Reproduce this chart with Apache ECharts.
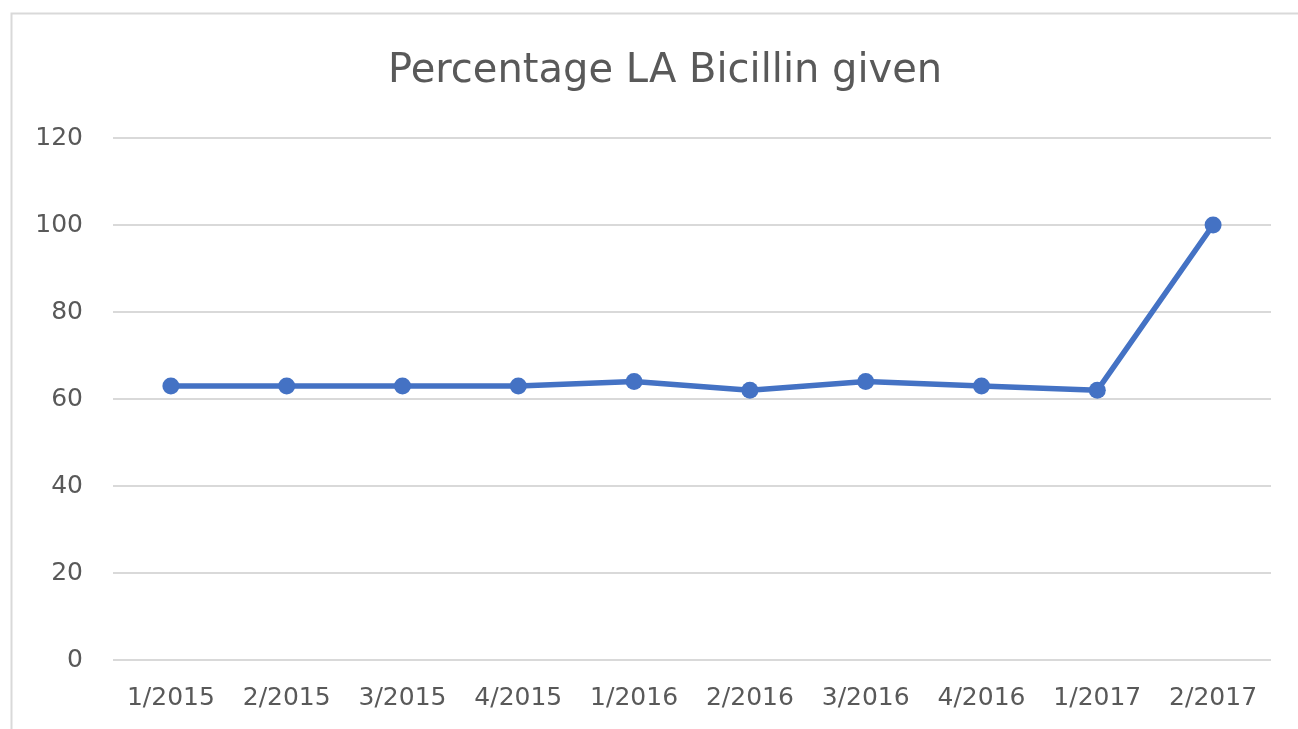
<!DOCTYPE html>
<html>
<head>
<meta charset="utf-8">
<script src="https://cdn.jsdelivr.net/npm/echarts@6/dist/echarts.min.js"></script>
<style>
  html, body { margin: 0; padding: 0; background: #fff; }
  #chart { width: 1298px; height: 729px; }
</style>
</head>
<body>
<div id="chart"></div>
<script>
// data
const categories = ["1/2015", "2/2015", "3/2015", "4/2015", "1/2016", "2/2016", "3/2016", "4/2016", "1/2017", "2/2017"];
const percentGiven = [63, 63, 63, 63, 64, 62, 64, 63, 62, 100];
const yTicks = { min: 0, max: 120, interval: 20 };

const chart = echarts.init(document.getElementById("chart"));

chart.setOption({
    backgroundColor: "#fff",
    animation: false,
    title: {
        text: "Percentage LA Bicillin given",
        left: 383,
        top: 47,
        textStyle: { color: "#595959", fontSize: 40, fontWeight: "normal", fontFamily: "DejaVu Sans" }
    },
    // outer frame of the chart area
    graphic: [{
        type: "rect",
        shape: { x: 11.5, y: 13.5, width: 1320, height: 760 },
        style: { fill: null, stroke: "#d9d9d9", lineWidth: 2 },
        silent: true
    }],
    grid: { left: 113, right: 27, top: 138, bottom: 69 },
    xAxis: {
        type: "category",
        data: categories,
        axisLine: { show: false },
        axisTick: { show: false },
        axisLabel: { color: "#595959", fontSize: 25, fontFamily: "DejaVu Sans", margin: 26 }
    },
    yAxis: {
        type: "value",
        min: yTicks.min,
        max: yTicks.max,
        interval: yTicks.interval,
        axisLine: { show: false },
        axisTick: { show: false },
        axisLabel: { color: "#595959", fontSize: 25, fontFamily: "DejaVu Sans", margin: 30 },
        splitLine: { lineStyle: { color: "#d9d9d9", width: 2 } }
    },
    series: [{
        type: "line",
        data: percentGiven,
        symbol: "circle",
        symbolSize: 17,
        lineStyle: { color: "#4472c4", width: 5.5 },
        itemStyle: { color: "#4472c4" }
    }]
});

window.addEventListener("resize", () => chart.resize());
</script>
</body>
</html>
